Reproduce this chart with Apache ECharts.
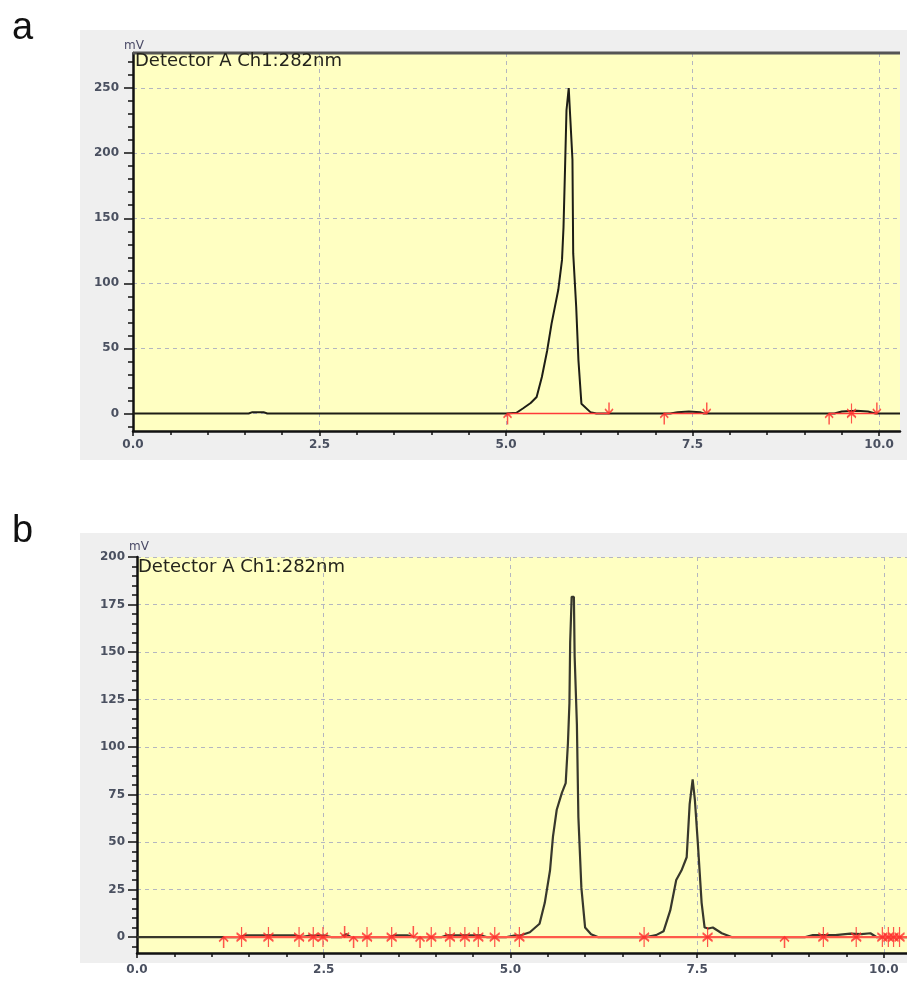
<!DOCTYPE html>
<html>
<head>
<meta charset="utf-8">
<script src="https://cdn.jsdelivr.net/npm/echarts@6/dist/echarts.min.js"></script>
<style>
  html, body { margin: 0; padding: 0; background: #fff; }
  #chart { width: 907px; height: 981px; }
</style>
</head>
<body>
<div id="chart"></div>
<script>
// panel a: retention time (min) / signal (mV)
const aTime = [0, 1.55, 1.6, 1.75, 1.8, 5.0, 5.14, 5.23, 5.33, 5.41, 5.48, 5.55, 5.61, 5.70, 5.75, 5.77, 5.79, 5.81, 5.84, 5.86,
  5.89, 5.90, 5.94, 5.97, 6.01, 6.13, 6.21, 7.2, 7.3, 7.45, 7.6, 7.65, 9.4, 9.5, 9.7, 9.85, 9.95, 10.28];
const aSignal = [0, 0, 1, 1, 0, 0, 0.5, 4, 8, 12.6, 28, 48, 69, 95, 118, 143, 187, 233, 250, 228,
  195, 123, 82, 41, 7.5, 1, 0, 0, 1, 1.5, 1, 0, 0, 1.5, 2, 1.5, 0, 0];
const aBaselines = [[5.02, 6.38], [7.12, 7.69], [9.33, 9.97]];
const aUpMarks = [5.02, 7.12, 9.33];
const aDownMarks = [6.38, 7.69, 9.97];
const aStarMarks = [9.63];

// panel b
const bTime = [0, 1.16, 1.38, 1.45, 2.12, 2.2, 2.3, 2.52, 2.6, 2.74, 2.8, 2.86, 3.38, 3.45, 3.62, 3.7, 4.08, 4.15, 4.6, 4.68,
  4.95, 5.05, 5.13, 5.26, 5.39, 5.46, 5.53, 5.57, 5.62, 5.69, 5.74, 5.77, 5.79, 5.80, 5.82, 5.85, 5.86, 5.89, 5.91, 5.95,
  6.00, 6.08, 6.17, 6.82, 6.95, 7.05, 7.14, 7.22, 7.29, 7.36, 7.40, 7.44, 7.47, 7.51, 7.56, 7.60, 7.65, 7.71, 7.83, 7.96,
  8.95, 9.05, 9.35, 9.55, 9.7, 9.82, 9.9, 10.31];
const bSignal = [0, 0, 0, 0.9, 0.9, 0, 0.7, 0.7, 0, 0, 1.5, 0, 0, 0.9, 0.9, 0, 0, 0.9, 0.9, 0,
  0, 0.8, 0.8, 2.5, 7, 18, 35, 53, 67, 76, 81, 102, 123, 155, 179, 179, 147.5, 112, 63, 26,
  5, 1.5, 0, 0, 1, 3, 14, 30, 35, 42, 70, 83, 72, 49, 18, 5, 4.5, 5, 2, 0,
  0, 1, 1, 1.8, 1.5, 2, 0, 0];
const bBaselines = [[1.16, 10.31]];
const bUpMarks = [1.16, 2.90, 3.79, 8.67];
const bDownMarks = [2.78, 3.70];
const bStarMarks = [1.40, 1.76, 2.17, 2.36, 2.49, 3.08, 3.41, 3.94, 4.19, 4.39, 4.57, 4.79, 5.12,
  6.79, 7.64, 9.19, 9.63, 9.98, 10.06, 10.13, 10.21];

// tick labels
const xMajor = [0, 2.5, 5, 7.5, 10];
const aYMajor = [0, 50, 100, 150, 200, 250];
const bYMajor = [0, 25, 50, 75, 100, 125, 150, 175, 200];

function steps(from, to, step) {
  const out = [];
  for (let v = from; v <= to + 1e-9; v += step) out.push(Math.round(v * 100) / 100);
  return out;
}
const xMinor = steps(0, 10, 0.5);
const aYMinor = steps(-10, 270, 10);
const bYMinor = steps(-5, 200, 5);

const UP = 'path://M5 0L5 10M1 4L5 0L9 4';
const DOWN = 'path://M5 0L5 10M1 6L5 10L9 6';
const STAR = 'path://M5 0L5 20M1 6L5 10L9 6M1 14L5 10L9 14';

const labelColor = '#4a5060';
const gridLine = { show: true, lineStyle: { color: '#b4b6c0', type: [4, 4], width: 1 } };

function majorX(gi, max, margin) {
  return {
    type: 'value', gridIndex: gi, position: 'bottom', min: 0, max: max,
    axisLine: { onZero: false, lineStyle: { color: '#111', width: 2.5 } },
    axisTick: { customValues: xMajor, length: 5, lineStyle: { color: '#111', width: 1.5 } },
    axisLabel: { customValues: xMajor, formatter: v => v.toFixed(1), margin: margin,
      fontFamily: 'DejaVu Sans', fontSize: 12, fontWeight: 'bold', color: labelColor },
    splitLine: gridLine
  };
}
function minorX(gi, max) {
  return {
    type: 'value', gridIndex: gi, position: 'bottom', min: 0, max: max,
    axisLine: { show: false, onZero: false },
    axisTick: { customValues: xMinor, length: 4, lineStyle: { color: '#111', width: 1.5 } },
    axisLabel: { show: false }, splitLine: { show: false }
  };
}
function majorY(gi, min, max, values, margin) {
  return {
    type: 'value', gridIndex: gi, position: 'left', min: min, max: max,
    axisLine: { show: true, onZero: false, lineStyle: { color: '#111', width: 2.5 } },
    axisTick: { show: true, customValues: values, length: 9, lineStyle: { color: '#111', width: 1.5 } },
    axisLabel: { customValues: values, margin: margin,
      fontFamily: 'DejaVu Sans', fontSize: 12, fontWeight: 'bold', color: labelColor },
    splitLine: gridLine
  };
}
function minorY(gi, min, max, values) {
  return {
    type: 'value', gridIndex: gi, position: 'left', min: min, max: max,
    axisLine: { show: false, onZero: false },
    axisTick: { show: true, customValues: values, length: 5, lineStyle: { color: '#111', width: 1.5 } },
    axisLabel: { show: false }, splitLine: { show: false }
  };
}

function trace(xi, yi, time, signal, color, width) {
  return {
    type: 'line', xAxisIndex: xi, yAxisIndex: yi, symbol: 'none', z: 3,
    lineStyle: { color: color, width: width },
    data: time.map((t, i) => [t, signal[i]])
  };
}
function baselines(xi, yi, segs, width, color) {
  return segs.map(s => ({
    type: 'line', xAxisIndex: xi, yAxisIndex: yi, symbol: 'none', z: 4,
    lineStyle: { color: color, width: width },
    data: [[s[0], 0], [s[1], 0]]
  }));
}
function marks(xi, yi, times, symbol, size, offset) {
  return {
    type: 'scatter', xAxisIndex: xi, yAxisIndex: yi, z: 5,
    symbol: symbol, symbolSize: size, symbolOffset: offset,
    itemStyle: { color: 'rgba(0,0,0,0)', borderColor: '#ff2a2a', borderWidth: 1.7 },
    data: times.map(t => [t, 0])
  };
}

const chart = echarts.init(document.getElementById('chart'));
chart.setOption({
  animation: false,
  backgroundColor: '#fff',
  graphic: [
    { type: 'rect', z: -10, shape: { x: 80, y: 30, width: 827, height: 430 }, style: { fill: '#efefef' } },
    { type: 'rect', z: -10, shape: { x: 80, y: 533, width: 827, height: 430 }, style: { fill: '#efefef' } },
    { type: 'line', z: 10, shape: { x1: 133, y1: 53, x2: 900, y2: 53 }, style: { stroke: '#555', lineWidth: 3 } },
    { type: 'text', z: 20, left: 12, top: 10, style: { text: 'a', font: '38px "Liberation Sans", Arial', fill: '#111' } },
    { type: 'text', z: 20, left: 12, top: 513, style: { text: 'b', font: '38px "Liberation Sans", Arial', fill: '#111' } },
    { type: 'text', z: 20, x: 134, y: 46, style: { text: 'mV', font: '12px "DejaVu Sans"', fill: '#4a4a66', align: 'center', verticalAlign: 'middle' } },
    { type: 'text', z: 20, x: 139, y: 547, style: { text: 'mV', font: '12px "DejaVu Sans"', fill: '#4a4a66', align: 'center', verticalAlign: 'middle' } },
    { type: 'text', z: 20, x: 135, y: 52, style: { text: 'Detector A Ch1:282nm', font: '18px "DejaVu Sans"', fill: '#24241c', verticalAlign: 'top' } },
    { type: 'text', z: 20, x: 138, y: 558, style: { text: 'Detector A Ch1:282nm', font: '18px "DejaVu Sans"', fill: '#24241c', verticalAlign: 'top' } }
  ],
  grid: [
    { left: 133, top: 53, right: 7, height: 378, show: true, backgroundColor: '#ffffc2', borderWidth: 0 },
    { left: 137, top: 557, right: 0, height: 396, show: true, backgroundColor: '#ffffc2', borderWidth: 0 }
  ],
  xAxis: [
    majorX(0, 10.28, 8), minorX(0, 10.28),
    majorX(1, 10.31, 11), minorX(1, 10.31)
  ],
  yAxis: [
    majorY(0, -13.5, 277, aYMajor, 14), minorY(0, -13.5, 277, aYMinor),
    majorY(1, -8.4, 200, bYMajor, 12), minorY(1, -8.4, 200, bYMinor)
  ],
  series: [
    trace(0, 0, aTime, aSignal, '#1e1e16', 2),
    ...baselines(0, 0, aBaselines, 1.4, '#ff3a3a'),
    marks(0, 0, aUpMarks, UP, [8, 11], [0, 5.5]),
    marks(0, 0, aDownMarks, DOWN, [8, 11], [0, -5.5]),
    marks(0, 0, aStarMarks, STAR, [9, 20], [0, 0]),

    trace(2, 2, bTime, bSignal, '#38382c', 2.2),
    ...baselines(2, 2, bBaselines, 2.2, '#ff5a4a'),
    marks(2, 2, bUpMarks, UP, [9, 11], [0, 5.5]),
    marks(2, 2, bDownMarks, DOWN, [9, 11], [0, -5.5]),
    marks(2, 2, bStarMarks, STAR, [10, 20], [0, 0])
  ]
});
</script>
</body>
</html>
